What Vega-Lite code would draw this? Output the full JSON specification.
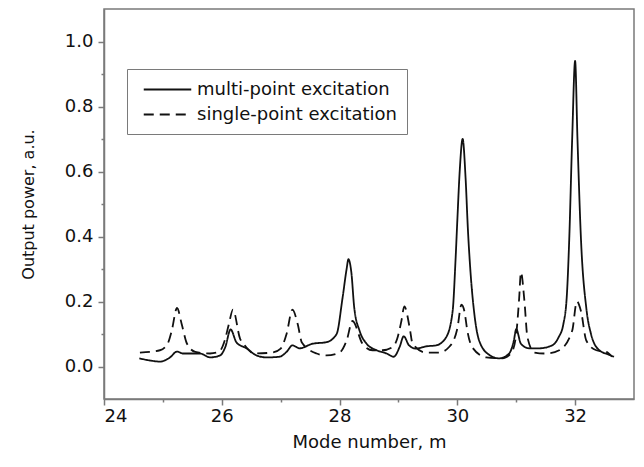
{
  "$schema": "https://vega.github.io/schema/vega-lite/v6.json",
  "width": 530,
  "height": 390,
  "autosize": "none",
  "padding": {"left": 104, "top": 9, "right": 10, "bottom": 68},
  "background": "white",
  "config": {
    "view": {"stroke": "#7a7a7a", "strokeWidth": 1.5},
    "font": "DejaVu Sans",
    "axis": {
      "domainColor": "#7a7a7a",
      "domainWidth": 1.5,
      "tickColor": "#7a7a7a",
      "tickWidth": 1.5,
      "grid": false,
      "labelFont": "DejaVu Sans",
      "labelFontSize": 18,
      "labelColor": "#111",
      "titleFont": "DejaVu Sans",
      "titleFontSize": 18,
      "titleFontWeight": "normal",
      "titleColor": "#111"
    }
  },
  "data": {
    "values": [
      {"m": 24.60, "v": 0.025, "s": "multi-point excitation"},
      {"m": 24.80, "v": 0.018, "s": "multi-point excitation"},
      {"m": 24.95, "v": 0.015, "s": "multi-point excitation"},
      {"m": 25.12, "v": 0.028, "s": "multi-point excitation"},
      {"m": 25.24, "v": 0.046, "s": "multi-point excitation"},
      {"m": 25.34, "v": 0.040, "s": "multi-point excitation"},
      {"m": 25.63, "v": 0.040, "s": "multi-point excitation"},
      {"m": 25.80, "v": 0.028, "s": "multi-point excitation"},
      {"m": 25.97, "v": 0.034, "s": "multi-point excitation"},
      {"m": 26.06, "v": 0.060, "s": "multi-point excitation"},
      {"m": 26.15, "v": 0.114, "s": "multi-point excitation"},
      {"m": 26.25, "v": 0.074, "s": "multi-point excitation"},
      {"m": 26.42, "v": 0.056, "s": "multi-point excitation"},
      {"m": 26.59, "v": 0.034, "s": "multi-point excitation"},
      {"m": 26.76, "v": 0.028, "s": "multi-point excitation"},
      {"m": 26.98, "v": 0.030, "s": "multi-point excitation"},
      {"m": 27.10, "v": 0.045, "s": "multi-point excitation"},
      {"m": 27.20, "v": 0.065, "s": "multi-point excitation"},
      {"m": 27.32, "v": 0.056, "s": "multi-point excitation"},
      {"m": 27.54, "v": 0.070, "s": "multi-point excitation"},
      {"m": 27.78, "v": 0.075, "s": "multi-point excitation"},
      {"m": 27.95, "v": 0.100, "s": "multi-point excitation"},
      {"m": 28.05, "v": 0.210, "s": "multi-point excitation"},
      {"m": 28.12, "v": 0.300, "s": "multi-point excitation"},
      {"m": 28.15, "v": 0.330, "s": "multi-point excitation"},
      {"m": 28.20, "v": 0.290, "s": "multi-point excitation"},
      {"m": 28.25, "v": 0.180, "s": "multi-point excitation"},
      {"m": 28.34, "v": 0.110, "s": "multi-point excitation"},
      {"m": 28.46, "v": 0.070, "s": "multi-point excitation"},
      {"m": 28.63, "v": 0.050, "s": "multi-point excitation"},
      {"m": 28.80, "v": 0.040, "s": "multi-point excitation"},
      {"m": 28.92, "v": 0.030, "s": "multi-point excitation"},
      {"m": 29.02, "v": 0.060, "s": "multi-point excitation"},
      {"m": 29.09, "v": 0.093, "s": "multi-point excitation"},
      {"m": 29.18, "v": 0.065, "s": "multi-point excitation"},
      {"m": 29.30, "v": 0.055, "s": "multi-point excitation"},
      {"m": 29.47, "v": 0.062, "s": "multi-point excitation"},
      {"m": 29.64, "v": 0.065, "s": "multi-point excitation"},
      {"m": 29.81, "v": 0.090, "s": "multi-point excitation"},
      {"m": 29.92, "v": 0.170, "s": "multi-point excitation"},
      {"m": 29.97, "v": 0.330, "s": "multi-point excitation"},
      {"m": 30.00, "v": 0.450, "s": "multi-point excitation"},
      {"m": 30.04, "v": 0.600, "s": "multi-point excitation"},
      {"m": 30.09, "v": 0.700, "s": "multi-point excitation"},
      {"m": 30.14, "v": 0.580, "s": "multi-point excitation"},
      {"m": 30.18, "v": 0.420, "s": "multi-point excitation"},
      {"m": 30.22, "v": 0.300, "s": "multi-point excitation"},
      {"m": 30.29, "v": 0.160, "s": "multi-point excitation"},
      {"m": 30.37, "v": 0.080, "s": "multi-point excitation"},
      {"m": 30.54, "v": 0.036, "s": "multi-point excitation"},
      {"m": 30.71, "v": 0.025, "s": "multi-point excitation"},
      {"m": 30.88, "v": 0.040, "s": "multi-point excitation"},
      {"m": 30.96, "v": 0.080, "s": "multi-point excitation"},
      {"m": 31.00, "v": 0.115, "s": "multi-point excitation"},
      {"m": 31.08, "v": 0.070, "s": "multi-point excitation"},
      {"m": 31.22, "v": 0.056, "s": "multi-point excitation"},
      {"m": 31.39, "v": 0.056, "s": "multi-point excitation"},
      {"m": 31.61, "v": 0.065, "s": "multi-point excitation"},
      {"m": 31.72, "v": 0.090, "s": "multi-point excitation"},
      {"m": 31.80, "v": 0.130, "s": "multi-point excitation"},
      {"m": 31.86, "v": 0.220, "s": "multi-point excitation"},
      {"m": 31.90, "v": 0.390, "s": "multi-point excitation"},
      {"m": 31.95, "v": 0.700, "s": "multi-point excitation"},
      {"m": 32.00, "v": 0.940, "s": "multi-point excitation"},
      {"m": 32.04, "v": 0.700, "s": "multi-point excitation"},
      {"m": 32.10, "v": 0.390, "s": "multi-point excitation"},
      {"m": 32.19, "v": 0.180, "s": "multi-point excitation"},
      {"m": 32.27, "v": 0.100, "s": "multi-point excitation"},
      {"m": 32.41, "v": 0.050, "s": "multi-point excitation"},
      {"m": 32.55, "v": 0.038, "s": "multi-point excitation"},
      {"m": 32.66, "v": 0.030, "s": "multi-point excitation"},
      {"m": 24.61, "v": 0.043, "s": "single-point excitation"},
      {"m": 24.95, "v": 0.050, "s": "single-point excitation"},
      {"m": 25.08, "v": 0.070, "s": "single-point excitation"},
      {"m": 25.15, "v": 0.110, "s": "single-point excitation"},
      {"m": 25.24, "v": 0.180, "s": "single-point excitation"},
      {"m": 25.32, "v": 0.130, "s": "single-point excitation"},
      {"m": 25.41, "v": 0.070, "s": "single-point excitation"},
      {"m": 25.55, "v": 0.045, "s": "single-point excitation"},
      {"m": 25.80, "v": 0.040, "s": "single-point excitation"},
      {"m": 25.95, "v": 0.045, "s": "single-point excitation"},
      {"m": 26.05, "v": 0.080, "s": "single-point excitation"},
      {"m": 26.12, "v": 0.130, "s": "single-point excitation"},
      {"m": 26.19, "v": 0.175, "s": "single-point excitation"},
      {"m": 26.31, "v": 0.086, "s": "single-point excitation"},
      {"m": 26.39, "v": 0.065, "s": "single-point excitation"},
      {"m": 26.55, "v": 0.040, "s": "single-point excitation"},
      {"m": 26.86, "v": 0.043, "s": "single-point excitation"},
      {"m": 27.00, "v": 0.055, "s": "single-point excitation"},
      {"m": 27.10, "v": 0.100, "s": "single-point excitation"},
      {"m": 27.20, "v": 0.175, "s": "single-point excitation"},
      {"m": 27.29, "v": 0.130, "s": "single-point excitation"},
      {"m": 27.36, "v": 0.074, "s": "single-point excitation"},
      {"m": 27.61, "v": 0.040, "s": "single-point excitation"},
      {"m": 27.78, "v": 0.034, "s": "single-point excitation"},
      {"m": 28.00, "v": 0.043, "s": "single-point excitation"},
      {"m": 28.12, "v": 0.080, "s": "single-point excitation"},
      {"m": 28.22, "v": 0.140, "s": "single-point excitation"},
      {"m": 28.39, "v": 0.070, "s": "single-point excitation"},
      {"m": 28.56, "v": 0.050, "s": "single-point excitation"},
      {"m": 28.73, "v": 0.050, "s": "single-point excitation"},
      {"m": 28.90, "v": 0.060, "s": "single-point excitation"},
      {"m": 28.98, "v": 0.086, "s": "single-point excitation"},
      {"m": 29.05, "v": 0.140, "s": "single-point excitation"},
      {"m": 29.10, "v": 0.185, "s": "single-point excitation"},
      {"m": 29.19, "v": 0.120, "s": "single-point excitation"},
      {"m": 29.24, "v": 0.070, "s": "single-point excitation"},
      {"m": 29.47, "v": 0.043, "s": "single-point excitation"},
      {"m": 29.69, "v": 0.043, "s": "single-point excitation"},
      {"m": 29.86, "v": 0.060, "s": "single-point excitation"},
      {"m": 30.00, "v": 0.117, "s": "single-point excitation"},
      {"m": 30.07, "v": 0.190, "s": "single-point excitation"},
      {"m": 30.12, "v": 0.170, "s": "single-point excitation"},
      {"m": 30.17, "v": 0.110, "s": "single-point excitation"},
      {"m": 30.25, "v": 0.060, "s": "single-point excitation"},
      {"m": 30.49, "v": 0.028, "s": "single-point excitation"},
      {"m": 30.76, "v": 0.025, "s": "single-point excitation"},
      {"m": 30.92, "v": 0.043, "s": "single-point excitation"},
      {"m": 31.00, "v": 0.100, "s": "single-point excitation"},
      {"m": 31.05, "v": 0.210, "s": "single-point excitation"},
      {"m": 31.08, "v": 0.290, "s": "single-point excitation"},
      {"m": 31.14, "v": 0.200, "s": "single-point excitation"},
      {"m": 31.19, "v": 0.090, "s": "single-point excitation"},
      {"m": 31.31, "v": 0.043, "s": "single-point excitation"},
      {"m": 31.51, "v": 0.040, "s": "single-point excitation"},
      {"m": 31.73, "v": 0.050, "s": "single-point excitation"},
      {"m": 31.95, "v": 0.110, "s": "single-point excitation"},
      {"m": 32.03, "v": 0.200, "s": "single-point excitation"},
      {"m": 32.10, "v": 0.170, "s": "single-point excitation"},
      {"m": 32.19, "v": 0.080, "s": "single-point excitation"},
      {"m": 32.36, "v": 0.050, "s": "single-point excitation"},
      {"m": 32.53, "v": 0.045, "s": "single-point excitation"},
      {"m": 32.63, "v": 0.030, "s": "single-point excitation"}
    ]
  },
  "layer": [
    {
      "mark": {"type": "line", "interpolate": "monotone", "color": "#111", "strokeWidth": 1.8},
      "encoding": {
        "x": {
          "field": "m", "type": "quantitative",
          "scale": {"domain": [24, 33], "nice": false, "zero": false},
          "axis": {"orient": "bottom", "values": [24, 26, 28, 30, 32], "tickSize": 6, "labelPadding": 2, "title": "Mode number, m", "titlePadding": 8}
        },
        "y": {
          "field": "v", "type": "quantitative",
          "scale": {"domain": [-0.1, 1.1], "nice": false, "zero": false},
          "axis": {"orient": "left", "values": [0, 0.2, 0.4, 0.6, 0.8, 1.0], "format": ".1f", "tickSize": 6, "labelPadding": 5, "title": "Output power, a.u.", "titleFontSize": 16, "titlePadding": 28}
        },
        "strokeDash": {
          "field": "s", "type": "nominal",
          "scale": {"domain": ["multi-point excitation", "single-point excitation"], "range": [[1, 0], [10, 6]]},
          "legend": {
            "title": null,
            "orient": "none",
            "legendX": 23,
            "legendY": 60,
            "padding": 10,
            "strokeColor": "#7a7a7a",
            "fillColor": "white",
            "symbolType": "M-2.5,0H2.5",
            "symbolSize": 361,
            "symbolStrokeWidth": 2,
            "symbolStrokeColor": "#111",
            "symbolOffset": 20,
            "labelFont": "DejaVu Sans",
            "labelFontSize": 18,
            "labelColor": "#111",
            "labelOffset": 19,
            "labelLimit": 400,
            "rowPadding": 5
          }
        }
      }
    },
    {
      "mark": {"type": "line", "opacity": 0},
      "encoding": {
        "x": {
          "field": "m", "type": "quantitative",
          "scale": {"domain": [24, 33], "nice": false, "zero": false},
          "axis": {"orient": "bottom", "values": [25, 27, 29, 31], "tickSize": 3, "labels": false, "domain": false, "title": null}
        },
        "y": {
          "field": "v", "type": "quantitative",
          "scale": {"domain": [-0.1, 1.1], "nice": false, "zero": false},
          "axis": {"orient": "left", "values": [0.1, 0.3, 0.5, 0.7, 0.9], "tickSize": 3, "labels": false, "domain": false, "title": null}
        },
        "detail": {"field": "s", "type": "nominal"}
      }
    }
  ],
  "resolve": {"axis": {"x": "independent", "y": "independent"}}
}
